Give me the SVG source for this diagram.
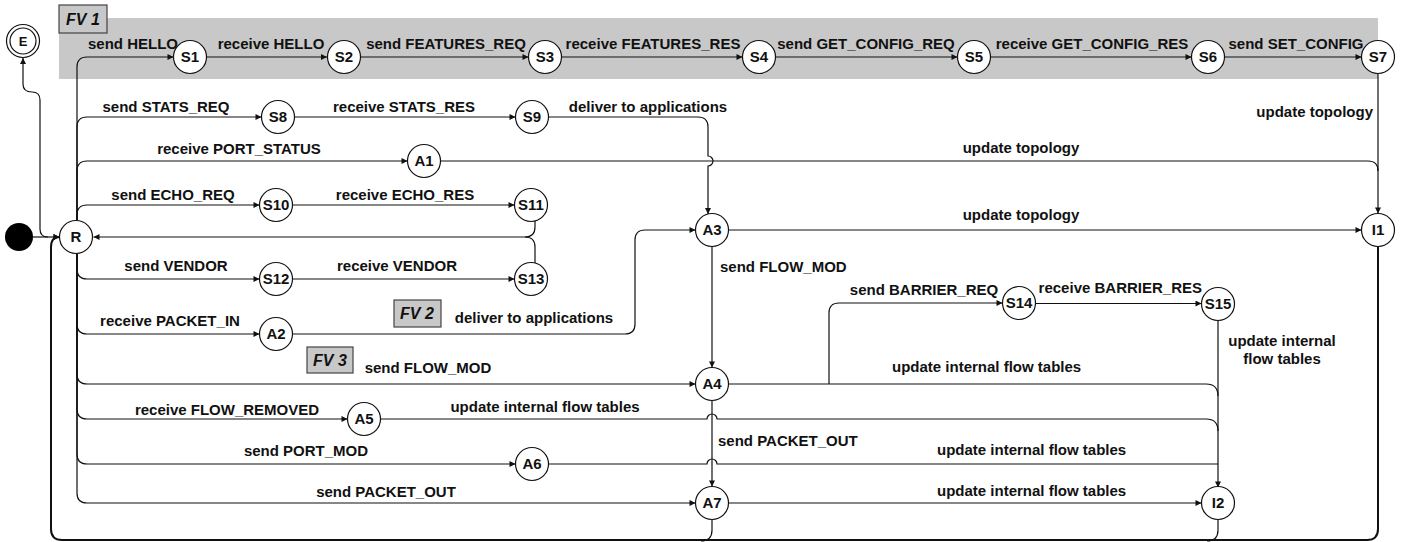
<svg xmlns="http://www.w3.org/2000/svg" width="1411" height="542" viewBox="0 0 1411 542">
<defs>
<marker id="ah" viewBox="0 0 10 10" refX="10" refY="5" markerWidth="7" markerHeight="6" markerUnits="userSpaceOnUse" orient="auto"><path d="M0,0 L10,5 L0,10 z" fill="#111"/></marker>
</defs>
<style>
.band{fill:#c8c8c8}
.fv{fill:#c8c8c8;stroke:#444;stroke-width:1.2}
.fvt{font-family:"Liberation Sans",Arial,sans-serif;font-weight:bold;font-style:italic;font-size:16px;fill:#111;text-anchor:middle}
.n circle{fill:#fff;stroke:#111;stroke-width:1.2}
.n text{font-family:"Liberation Sans",Arial,sans-serif;font-weight:bold;font-size:15px;fill:#111;text-anchor:middle}
.e path{fill:none;stroke:#111;stroke-width:1.2}
.a{marker-end:url(#ah)}
.loop{stroke-width:2 !important}
.lb{font-family:"Liberation Sans",Arial,sans-serif;font-weight:bold;font-size:15px;fill:#111;text-anchor:middle}
.ls{text-anchor:start}
.le{text-anchor:end}
</style>
<rect class="band" x="59" y="18" width="1319" height="61"/>
<g id="fv1"><rect class="fv" x="59" y="5" width="48" height="28"/><text class="fvt" x="83" y="25">FV 1</text></g>
<g id="fv2"><rect class="fv" x="394" y="300" width="47" height="27"/><text class="fvt" x="417" y="319">FV 2</text></g>
<g id="fv3"><rect class="fv" x="307" y="347" width="46" height="26"/><text class="fvt" x="330" y="366">FV 3</text></g>

<g id="connectors" class="e">
<path d="M33 237 L59.5 237" class="a"/>
<path d="M48 237 Q40 237 40 229 L40 100 Q40 92 32 92 Q23 92 23 84 L23 58" class="a"/>
<path d="M77 221 L77 67 Q77 57 87 57 L173.5 57" class="a"/>
<path d="M206.5 57 L327 57" class="a"/>
<path d="M360.5 57 L528.5 57" class="a"/>
<path d="M561.5 57 L742.5 57" class="a"/>
<path d="M775.5 57 L957.5 57" class="a"/>
<path d="M990.5 57 L1191.5 57" class="a"/>
<path d="M1224.5 57 L1361.5 57" class="a"/>
<path d="M1378 73.5 L1378 213.5" class="a"/>
<path d="M77 221 L77 127 Q77 117 87 117 L261.5 117" class="a"/>
<path d="M294.5 117 L515.5 117" class="a"/>
<path d="M548.5 117 L698 117 Q708 117 708 127 L708 156 A5 5 0 0 1 708 166 L708 214" class="a"/>
<path d="M77 221 L77 171 Q77 161 87 161 L407.5 161" class="a"/>
<path d="M440.5 161 L1368 161 Q1378 161 1378 171"/>
<path d="M77 221 L77 215 Q77 205 87 205 L259.5 205" class="a"/>
<path d="M292.5 205 L514.5 205" class="a"/>
<path d="M535 221 L535 227 Q535 237 525 237 L93.5 237" class="a"/>
<path d="M535 263 L535 247 Q535 237 525 237"/>
<path d="M77 253 L77 269 Q77 279 87 279 L259.5 279" class="a"/>
<path d="M292.5 279 L514.5 279" class="a"/>
<path d="M77 253 L77 324 Q77 334 87 334 L259.5 334" class="a"/>
<path d="M292.5 334 L625 334 Q635 334 635 324 L635 240 Q635 230 645 230 L695.5 230" class="a"/>
<path d="M728.5 230 L1361.5 230" class="a"/>
<path d="M712 246.5 L712 367.5" class="a"/>
<path d="M77 253 L77 374 Q77 384 87 384 L695.5 384" class="a"/>
<path d="M829 384 L829 313 Q829 303 839 303 L1002.5 303" class="a"/>
<path d="M1035.5 303.5 L1201.5 303.5" class="a"/>
<path d="M1218 320.5 L1218 487.5" class="a"/>
<path d="M728.5 384 L1206 384 Q1218 384 1218 396"/>
<path d="M77 253 L77 409 Q77 419 87 419 L347.5 419" class="a"/>
<path d="M380.5 419 L707 419 A5 5 0 0 1 717 419 L1206 419 Q1218 419 1218 431"/>
<path d="M77 253 L77 454 Q77 464 87 464 L515.5 464" class="a"/>
<path d="M548.5 464 L707 464 A5 5 0 0 1 717 464 L1218 464"/>
<path d="M77 253 L77 493 Q77 503 87 503 L695.5 503" class="a"/>
<path d="M712 400.5 L712 486.5" class="a"/>
<path d="M728.5 503 L1201.5 503" class="a"/>
<path d="M1218 519.5 L1218 530 Q1218 541 1207 541"/>
<path d="M712 519.5 L712 530 Q712 541 701 541"/>
<path class="a loop" d="M1378 246.5 L1378 529 Q1378 540 1367 540 L62 540 Q51 540 51 529 L51 247 Q51 237 59.5 237"/>
</g>

<g id="labels">
<text class="lb" x="133" y="49">send HELLO</text>
<text class="lb" x="271" y="49">receive HELLO</text>
<text class="lb" x="446" y="49">send FEATURES_REQ</text>
<text class="lb" x="653" y="49">receive FEATURES_RES</text>
<text class="lb" x="866" y="49">send GET_CONFIG_REQ</text>
<text class="lb" x="1092" y="49">receive GET_CONFIG_RES</text>
<text class="lb" x="1296" y="49">send SET_CONFIG</text>
<text class="lb le" x="1373" y="117">update topology</text>
<text class="lb" x="166" y="112">send STATS_REQ</text>
<text class="lb" x="404" y="112">receive STATS_RES</text>
<text class="lb" x="648" y="112">deliver to applications</text>
<text class="lb" x="239" y="154">receive PORT_STATUS</text>
<text class="lb" x="1021" y="153">update topology</text>
<text class="lb" x="173" y="200">send ECHO_REQ</text>
<text class="lb" x="405" y="200">receive ECHO_RES</text>
<text class="lb" x="1021" y="220">update topology</text>
<text class="lb" x="176" y="271">send VENDOR</text>
<text class="lb" x="397" y="271">receive VENDOR</text>
<text class="lb ls" x="720" y="272">send FLOW_MOD</text>
<text class="lb" x="924" y="295">send BARRIER_REQ</text>
<text class="lb le" x="1202" y="293">receive BARRIER_RES</text>
<text class="lb" x="170" y="326">receive PACKET_IN</text>
<text class="lb" x="534" y="323">deliver to applications</text>
<text class="lb" x="1282" y="346">update internal</text>
<text class="lb" x="1282" y="364">flow tables</text>
<text class="lb" x="428" y="373">send FLOW_MOD</text>
<text class="lb ls" x="892" y="372">update internal flow tables</text>
<text class="lb" x="227" y="415">receive FLOW_REMOVED</text>
<text class="lb" x="545" y="412">update internal flow tables</text>
<text class="lb ls" x="718" y="446">send PACKET_OUT</text>
<text class="lb" x="306" y="456">send PORT_MOD</text>
<text class="lb ls" x="937" y="455">update internal flow tables</text>
<text class="lb" x="386" y="497">send PACKET_OUT</text>
<text class="lb ls" x="937" y="496">update internal flow tables</text>
</g>

<g id="n-start"><circle cx="19" cy="237" r="14" fill="#000"/></g>
<g id="n-E" class="n"><circle cx="23" cy="41" r="16.5"/><circle cx="23" cy="41" r="13"/><text x="23" y="46" style="font-size:13px">E</text></g>
<g id="n-R" class="n"><circle cx="76" cy="237" r="16.5"/><text x="76" y="242">R</text></g>
<g id="n-S1" class="n"><circle cx="190" cy="57" r="16.5"/><text x="190" y="62">S1</text></g>
<g id="n-S2" class="n"><circle cx="344" cy="57" r="16.5"/><text x="344" y="62">S2</text></g>
<g id="n-S3" class="n"><circle cx="545" cy="57" r="16.5"/><text x="545" y="62">S3</text></g>
<g id="n-S4" class="n"><circle cx="759" cy="57" r="16.5"/><text x="759" y="62">S4</text></g>
<g id="n-S5" class="n"><circle cx="974" cy="57" r="16.5"/><text x="974" y="62">S5</text></g>
<g id="n-S6" class="n"><circle cx="1208" cy="57" r="16.5"/><text x="1208" y="62">S6</text></g>
<g id="n-S7" class="n"><circle cx="1378" cy="57" r="16.5"/><text x="1378" y="62">S7</text></g>
<g id="n-S8" class="n"><circle cx="278" cy="117" r="16.5"/><text x="278" y="122">S8</text></g>
<g id="n-S9" class="n"><circle cx="532" cy="117" r="16.5"/><text x="532" y="122">S9</text></g>
<g id="n-A1" class="n"><circle cx="424" cy="161" r="16.5"/><text x="424" y="166">A1</text></g>
<g id="n-S10" class="n"><circle cx="276" cy="205" r="16.5"/><text x="276" y="210">S10</text></g>
<g id="n-S11" class="n"><circle cx="531" cy="205" r="16.5"/><text x="531" y="210">S11</text></g>
<g id="n-A3" class="n"><circle cx="712" cy="230" r="16.5"/><text x="712" y="235">A3</text></g>
<g id="n-I1" class="n"><circle cx="1378" cy="230" r="16.5"/><text x="1378" y="235">I1</text></g>
<g id="n-S12" class="n"><circle cx="276" cy="279" r="16.5"/><text x="276" y="284">S12</text></g>
<g id="n-S13" class="n"><circle cx="531" cy="279" r="16.5"/><text x="531" y="284">S13</text></g>
<g id="n-A2" class="n"><circle cx="276" cy="334" r="16.5"/><text x="276" y="339">A2</text></g>
<g id="n-S14" class="n"><circle cx="1019" cy="303" r="16.5"/><text x="1019" y="308">S14</text></g>
<g id="n-S15" class="n"><circle cx="1218" cy="304" r="16.5"/><text x="1218" y="309">S15</text></g>
<g id="n-A4" class="n"><circle cx="712" cy="384" r="16.5"/><text x="712" y="389">A4</text></g>
<g id="n-A5" class="n"><circle cx="364" cy="419" r="16.5"/><text x="364" y="424">A5</text></g>
<g id="n-A6" class="n"><circle cx="532" cy="464" r="16.5"/><text x="532" y="469">A6</text></g>
<g id="n-A7" class="n"><circle cx="712" cy="503" r="16.5"/><text x="712" y="508">A7</text></g>
<g id="n-I2" class="n"><circle cx="1218" cy="503" r="16.5"/><text x="1218" y="508">I2</text></g>
</svg>
